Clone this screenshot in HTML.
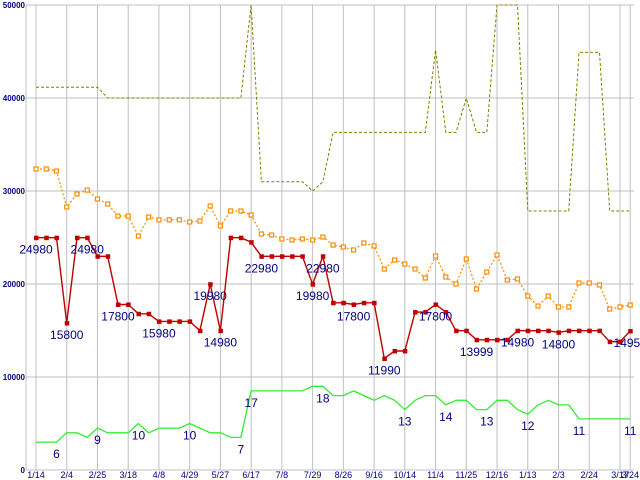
<!DOCTYPE html>
<html><head><meta charset="utf-8"><style>
html,body{margin:0;padding:0;background:#fff;}
svg{display:block;font-family:"Liberation Sans",sans-serif;}
</style></head><body>
<svg id="chart" width="640" height="480" viewBox="0 0 640 480" xmlns="http://www.w3.org/2000/svg">
<g id="grid"></g>
<g id="yaxis"></g>
<g id="xaxis"></g>
<g id="series"></g>
</svg>
<script>
const xTickLabels = ["1/14","2/4","2/25","3/18","4/8","4/29","5/27","6/17","7/8","7/29","8/26","9/16","10/14","11/4","11/25","12/16","1/13","2/3","2/24","3/17"];
const lastLabel = "3/24";
const yTicks = [0,10000,20000,30000,40000,50000];
const minPrice = [24980,24980,24980,15800,24980,24980,22980,22980,17800,17800,16800,16800,15980,15980,15980,15980,14980,19980,14980,24980,24980,24500,22980,22980,22980,22980,22980,19980,22980,17980,17980,17800,17980,17980,11990,12800,12800,16980,16980,17800,16980,14980,14980,13999,13999,13999,13999,14980,14980,14980,14980,14800,14980,14980,14980,14980,13800,13800,14950];
const avgPrice = [32370,32370,32150,28280,29680,30100,29140,28600,27310,27310,25160,27200,26900,26900,26900,26670,26770,28390,26240,27850,27850,27420,25380,25270,24840,24730,24840,24730,25050,24190,23980,23660,24410,24090,21610,22580,22150,21610,20640,23010,20750,20000,22690,19460,21290,23120,20430,20540,18710,17630,18710,17530,17530,20110,20110,19890,17310,17530,17740];
const maxPrice = [41150,41150,41150,41150,41150,41150,41150,40000,40000,40000,40000,40000,40000,40000,40000,40000,40000,40000,40000,40000,40000,50000,31000,31000,31000,31000,31000,30000,31000,36300,36300,36300,36300,36300,36300,36300,36300,36300,36300,45160,36300,36300,40000,36300,36300,50000,50000,50000,27850,27850,27850,27850,27850,44900,44900,44900,27850,27850,27850];
const shopCount = [6,6,6,8,8,7,9,8,8,8,10,8,9,9,9,10,9,8,8,7,7,17,17,17,17,17,17,18,18,16,16,17,16,15,16,15,13,15,16,16,14,15,15,13,13,15,15,13,12,14,15,14,14,11,11,11,11,11,11];
const priceLabelIdx = [0,5,3,8,12,17,18,22,28,27,31,34,39,43,47,51,58];
const countLabelIdx = [2,6,10,15,20,21,28,36,40,44,48,53,58];
const countScale = 500;

const NS="http://www.w3.org/2000/svg";
const X0=36, DX=10.245, Y0=470, PY=93/10000;
const xOf=i=>X0+i*DX;
const yOf=v=>Y0-v*PY;
function mk(tag,attrs,parent){const e=document.createElementNS(NS,tag);for(const k in attrs)e.setAttribute(k,attrs[k]);parent.appendChild(e);return e;}
const grid=document.getElementById('grid'), yaxis=document.getElementById('yaxis'), xaxis=document.getElementById('xaxis'), series=document.getElementById('series');

// horizontal grid + y labels
yTicks.forEach(v=>{
  const l=mk('line',{x1:26,x2:634,y1:yOf(v),y2:yOf(v),stroke:'#c0c0c0','stroke-width':1},grid);
  
  
  const t=mk('text',{x:25,y:yOf(v)+3,'text-anchor':'end','font-size':8,'font-weight':'bold',fill:'#000080'},yaxis);
  t.textContent=String(v);
  
  
});
const lv=mk('line',{x1:26,x2:26,y1:5,y2:470,stroke:'#c0c0c0','stroke-width':1},grid);


// vertical grid + x labels
const xl=xTickLabels.map((s,k)=>[s,k*3]).concat([[lastLabel,58]]);
xl.forEach(([s,i])=>{
  const l=mk('line',{x1:xOf(i),x2:xOf(i),y1:5,y2:470,stroke:'#c0c0c0','stroke-width':1},grid);
  
  
  const t=mk('text',{x:xOf(i),y:478,'text-anchor':'middle','font-size':9,fill:'#000080'},xaxis);
  t.textContent=s;
  
  
});
function pts(arr,f){return arr.map((v,i)=>xOf(i).toFixed(1)+','+f(v).toFixed(1)).join(' ');}
// max price (olive dashed)
const pMax=mk('polyline',{points:pts(maxPrice,yOf),fill:'none',stroke:'#808000','stroke-width':1,'stroke-dasharray':'3,2'},series);


// avg price (orange dotted)
const pAvg=mk('polyline',{points:pts(avgPrice,yOf),fill:'none',stroke:'#ff8c00','stroke-width':1.2,'stroke-dasharray':'2,2'},series);


avgPrice.forEach((v,i)=>{
  const r=mk('rect',{x:xOf(i)-2,y:yOf(v)-2,width:4,height:4,fill:'#fff',stroke:'#ff8c00','stroke-width':1.2},series);
  
  
});
// shop count (green)
const pCnt=mk('polyline',{points:pts(shopCount,c=>yOf(c*countScale)),fill:'none',stroke:'#33ee33','stroke-width':1.3},series);


countLabelIdx.forEach(i=>{
  const t=mk('text',{x:xOf(i),y:yOf(shopCount[i]*countScale)+16,'text-anchor':'middle','font-size':12,fill:'#000080'},series);
  t.textContent=String(shopCount[i]);
  
  
});
// min price (red)
const pMin=mk('polyline',{points:pts(minPrice,yOf),fill:'none',stroke:'#c00000','stroke-width':1.4},series);


minPrice.forEach((v,i)=>{
  const r=mk('rect',{x:xOf(i)-2,y:yOf(v)-2,width:4.5,height:4.5,fill:'#c00000'},series);
  
  
});
priceLabelIdx.forEach(i=>{
  const t=mk('text',{x:xOf(i),y:yOf(minPrice[i])+16,'text-anchor':'middle','font-size':12,fill:'#000080'},series);
  t.textContent=String(minPrice[i]);
  
  
});
</script>
</body></html>
